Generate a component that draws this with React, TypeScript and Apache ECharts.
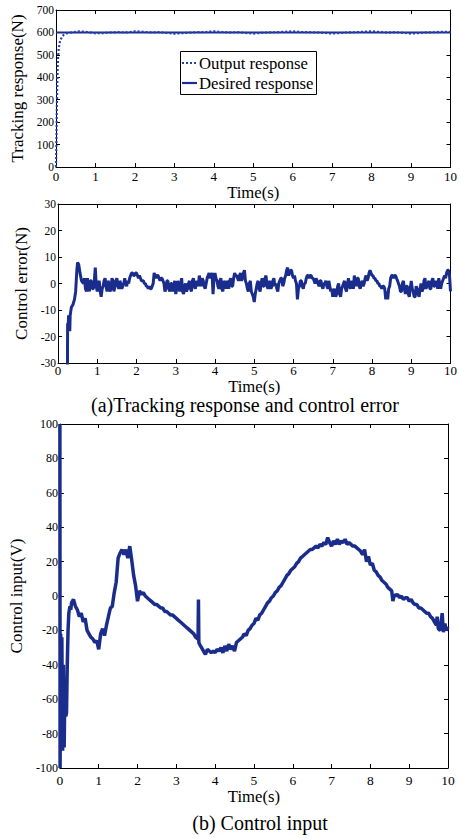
import React, { useEffect, useRef } from 'react';
import * as echarts from 'echarts';

const FONT = '"Liberation Serif", "Times New Roman", Times, serif';
const NAVY = '#1b2d8c';
const DOT_BLUE = '#2340b0';

// ---- (a) tracking response -------------------------------------------------
const desiredResponse: [number, number][] = [[0, 600], [10, 600]];

const outputResponse: [number, number][] = [
  [0, 0], [0.01, 100], [0.02, 250], [0.03, 350], [0.04, 430], [0.05, 480],
  [0.07, 530], [0.1, 560], [0.15, 580], [0.2, 590], [0.3, 597], [0.4, 600],
  [0.6, 605], [0.8, 602], [1.0, 596], [1.2, 597], [1.4, 600], [1.6, 601],
  [1.8, 600], [2.0, 605], [2.2, 603], [2.4, 600], [2.6, 601], [2.8, 598],
  [3.0, 594], [3.2, 597], [3.4, 599], [3.6, 601], [3.8, 602], [4.0, 605],
  [4.2, 602], [4.4, 600], [4.6, 601], [4.8, 598], [5.0, 595], [5.2, 598],
  [5.4, 600], [5.6, 601], [5.8, 603], [6.0, 605], [6.2, 602], [6.4, 601],
  [6.6, 600], [6.8, 598], [7.0, 595], [7.2, 597], [7.4, 600], [7.6, 601],
  [7.8, 603], [8.0, 605], [8.2, 602], [8.4, 599], [8.6, 601], [8.8, 598],
  [9.0, 595], [9.2, 597], [9.4, 600], [9.6, 601], [9.8, 603], [10.0, 602],
];

// ---- (a) control error -----------------------------------------------------
// start-up transient, (time, error) pairs
const errorOnset: [number, number][] = [
  [0.24, -35], [0.245, -15], [0.26, -16], [0.27, -12], [0.285, -13], [0.3, -18],
  [0.31, -12], [0.34, -9], [0.38, -8], [0.42, -6], [0.45, -3], [0.48, 5],
  [0.5, 8], [0.53, 7], [0.56, 4], [0.6, 1], [0.65, 0], [0.675, 2], [0.7, -2],
  [0.725, -3], [0.75, 2], [0.775, 0], [0.8, -3], [0.825, 1], [0.85, 1],
  [0.875, -2], [0.9, -2], [0.925, 1], [0.95, 6], [0.975, -1],
];
// steady state, logged every 25 ms from t = 1 s
const ERR_T0 = 1.0;
const ERR_DT = 0.025;
const errorSamples: number[] = [
  // 1 s
  -3, 0, 1, -3, -5, -2, -1, 1, 2, -1, -3, 1, 0, -3, -2, 2, 1, -3, -1, 1,
  2, -1, -2, 1, 0, -2, -1, 0, 2, 0, -1, 1, 0, 2, 3, 4, 4, 3, 3, 4,
  // 2 s
  4, 3, 2, 3, 2, 1, 1, 1, 0, 0, -1, -1, -2, -1, -2, -2, -1, 0, 4, 3,
  2, 3, 3, 2, 1, 2, 2, 1, 0, -3, -2, 1, 1, -2, -3, 0, 0, -3, -1, 1,
  // 3 s
  -4, -2, 1, -1, -3, 0, 2, -3, -4, -1, 0, -3, -2, 0, 1, -2, -3, 1, 2, -1,
  -2, 1, 0, -1, 3, 1, -1, 2, 1, -1, -2, 0, 2, 3, 4, 2, 3, 4, -4, 2,
  // 4 s
  4, 2, 1, -1, -2, 1, 2, -2, -3, 1, 0, -2, 1, 0, -2, 1, 2, -1, -1, 2,
  4, 3, 3, 2, 1, 3, 4, 1, 2, 4, 5, 1, 0, -2, -3, 0, 1, -3, -4, -5,
  // 5 s
  -7, -4, -2, 0, 1, -2, -3, 0, 2, -1, -1, 2, 3, -1, -2, 0, 1, -2, -1, 1,
  2, -1, 0, -2, -3, 0, 1, 2, 2, -1, 0, 2, 3, 5, 6, 3, 4, 5, 5, 3,
  // 6 s
  2, 3, 1, 0, -6, -2, -1, 1, 1, -1, -2, 0, 0, 2, 3, 3, 2, 3, 3, 2,
  2, 1, 0, 2, 1, 0, -1, 1, 1, -1, -2, 0, 0, 1, -1, -2, 1, -1, -3, -2,
  // 7 s
  -5, -3, -2, -5, -4, -1, 0, -4, -5, -2, -1, 0, 1, -2, -3, 0, 2, -1, -2, 1,
  0, -2, 3, 1, -1, 2, 2, -1, -2, 0, 1, -1, 0, 2, 3, 1, 2, 4, 5, 4,
  // 8 s
  3, 3, 2, 2, 1, 1, 0, 0, -1, -1, -2, -1, -1, -2, -6, -3, -6, -2, -1, 2,
  3, 3, 2, 3, 3, 2, 1, 0, -1, -3, -3, 0, 1, -2, -4, -1, -1, -4, -5, -2,
  // 9 s
  1, -2, -3, -5, -5, -1, -2, -4, -5, -2, 0, -3, -2, 1, 2, -2, -1, 0, 1, -2,
  -2, 1, 2, -1, -1, 1, 0, -2, 2, 0, -2, 0, 1, 2, 3, 2, 4, 5, 5, 3,
  // 10 s
  -3,
];

// ---- (b) control input -----------------------------------------------------
const controlInput: [number, number][] = [
  [0, 100], [0.005, -100], [0.02, -22], [0.04, -60], [0.05, -24], [0.07, -90],
  [0.09, -40], [0.11, -88], [0.13, -50], [0.15, -70], [0.17, -68], [0.19, -40],
  [0.21, -20], [0.23, -10], [0.26, -6], [0.28, -8], [0.3, -4],
  [0.35, -2], [0.4, -6], [0.45, -8], [0.5, -12], [0.55, -10], [0.6, -15],
  [0.65, -13], [0.7, -20], [0.75, -22], [0.8, -24], [0.85, -25], [0.9, -27],
  [0.95, -26], [1.0, -31], [1.05, -22], [1.1, -19], [1.15, -23], [1.2, -17],
  [1.25, -12], [1.3, -7], [1.35, -6], [1.4, 2], [1.45, 8], [1.5, 22], [1.55, 25],
  [1.6, 27], [1.65, 24], [1.7, 27], [1.75, 22], [1.8, 29], [1.85, 21], [1.9, 12],
  [1.95, 6], [2.0, -3], [2.05, 3], [2.1, 1], [2.15, 2], [2.2, 0], [2.25, -1],
  [2.3, -2], [2.35, -3], [2.4, -4], [2.45, -5], [2.5, -5], [2.55, -6], [2.6, -7],
  [2.65, -7], [2.7, -9], [2.75, -9], [2.8, -10], [2.85, -11], [2.9, -11],
  [2.95, -12], [3.0, -13], [3.05, -14], [3.1, -15], [3.15, -16], [3.2, -17],
  [3.25, -18], [3.3, -19], [3.35, -20], [3.4, -21], [3.45, -22], [3.5, -24],
  [3.55, -25], [3.56, -24], [3.57, -2], [3.58, -27], [3.62, -29], [3.65, -30],
  [3.7, -32], [3.75, -34], [3.8, -31], [3.85, -32], [3.9, -33], [3.95, -32],
  [4.0, -33], [4.05, -31], [4.1, -32], [4.15, -30], [4.2, -33], [4.25, -29],
  [4.3, -32], [4.35, -28], [4.4, -31], [4.45, -29], [4.5, -32], [4.55, -27],
  [4.6, -26], [4.65, -25], [4.7, -24], [4.75, -22], [4.8, -23], [4.85, -20],
  [4.9, -19], [4.95, -17], [5.0, -16], [5.05, -13], [5.1, -14], [5.15, -11],
  [5.2, -10], [5.25, -8], [5.3, -6], [5.35, -4], [5.4, -3], [5.45, -1], [5.5, 0],
  [5.55, 2], [5.6, 3], [5.65, 5], [5.7, 6], [5.75, 8], [5.8, 10], [5.85, 12],
  [5.9, 13], [5.95, 15], [6.0, 16], [6.05, 17], [6.1, 19], [6.15, 20], [6.2, 22],
  [6.25, 23], [6.3, 24], [6.35, 25], [6.4, 26], [6.45, 27], [6.5, 27], [6.55, 28],
  [6.6, 29], [6.65, 28], [6.7, 30], [6.75, 29], [6.8, 31], [6.85, 30], [6.9, 34],
  [6.95, 31], [7.0, 29], [7.05, 32], [7.1, 30], [7.15, 33], [7.2, 30], [7.25, 32],
  [7.3, 31], [7.35, 33], [7.4, 30], [7.45, 31], [7.5, 30], [7.55, 29], [7.6, 29],
  [7.65, 28], [7.7, 27], [7.75, 26], [7.8, 24], [7.85, 27], [7.9, 20], [7.95, 23],
  [8.0, 18], [8.05, 19], [8.1, 15], [8.15, 14], [8.2, 12], [8.25, 11], [8.3, 9],
  [8.35, 8], [8.4, 7], [8.45, 5], [8.5, 4], [8.55, 3], [8.58, -3], [8.62, 1],
  [8.65, 0], [8.7, 1], [8.75, -1], [8.8, 0], [8.85, -2], [8.9, -1], [8.95, -1],
  [9.0, -3], [9.05, -2], [9.1, -4], [9.15, -5], [9.2, -5], [9.25, -7], [9.3, -7],
  [9.35, -8], [9.4, -9], [9.45, -10], [9.5, -10], [9.55, -12], [9.6, -13],
  [9.65, -15], [9.7, -17], [9.72, -12], [9.75, -19], [9.8, -20], [9.85, -10],
  [9.88, -21], [9.92, -16], [9.95, -20], [10.0, -18],
];

const controlError: [number, number][] = [
  ...errorOnset,
  ...errorSamples.map((v, i): [number, number] => [ERR_T0 + i * ERR_DT, v]),
];

// panel boxes in px and their axis settings
const panels = [
  { left: 56, top: 10, width: 396, height: 157, yMin: 0, yMax: 700, yStep: 100, yName: 'Tracking response(N)', yGap: 25, xGap: 8, xLabelMargin: 3, xFont: 13, yFont: 11.5 },
  { left: 58, top: 204, width: 394, height: 159, yMin: -30, yMax: 30, yStep: 10, yName: 'Control error(N)', yGap: 25, xGap: 4, xLabelMargin: 1, xFont: 13, yFont: 11.5 },
  { left: 59, top: 424, width: 389, height: 344, yMin: -100, yMax: 100, yStep: 20, yName: 'Control input(V)', yGap: 31, xGap: 16, xLabelMargin: 5, xFont: 13.5, yFont: 12 },
];

const boxLine = { show: true, onZero: false, lineStyle: { color: '#000', width: 1 } };
const innerTick = { show: true, inside: true, length: 4, lineStyle: { color: '#000', width: 1 } };

// legend box of the tracking panel
const LEGEND = { x: 180, y: 51, w: 136, h: 43 };

function buildOption() {
  const grid = panels.map((p) => ({ left: p.left, top: p.top, width: p.width, height: p.height, containLabel: false }));
  const xAxis: any[] = [];
  const yAxis: any[] = [];
  panels.forEach((p, i) => {
    xAxis.push({
      type: 'value', gridIndex: i, position: 'bottom', min: 0, max: 10, interval: 1,
      axisLine: boxLine, axisTick: innerTick, splitLine: { show: false },
      axisLabel: { color: '#000', fontFamily: FONT, fontSize: p.xFont, margin: p.xLabelMargin },
      name: 'Time(s)', nameLocation: 'middle', nameGap: p.xGap,
      nameTextStyle: { color: '#000', fontFamily: FONT, fontSize: 16.7 },
    });
    xAxis.push({
      type: 'value', gridIndex: i, position: 'top', min: 0, max: 10, interval: 1,
      axisLine: boxLine, axisTick: innerTick, splitLine: { show: false }, axisLabel: { show: false },
    });
    yAxis.push({
      type: 'value', gridIndex: i, position: 'left', min: p.yMin, max: p.yMax, interval: p.yStep,
      axisLine: boxLine, axisTick: innerTick, splitLine: { show: false },
      axisLabel: { color: '#000', fontFamily: FONT, fontSize: p.yFont, margin: 2 },
      name: p.yName, nameLocation: 'middle', nameGap: p.yGap,
      nameTextStyle: { color: '#000', fontFamily: FONT, fontSize: 17 },
    });
    yAxis.push({
      type: 'value', gridIndex: i, position: 'right', min: p.yMin, max: p.yMax, interval: p.yStep,
      axisLine: boxLine, axisTick: innerTick, splitLine: { show: false }, axisLabel: { show: false },
    });
  });

  const rowA = LEGEND.y + 12;
  const rowB = LEGEND.y + 32;
  const legendText = { fontFamily: FONT, fontSize: 16.7, fill: '#000', verticalAlign: 'middle', align: 'left' };

  return {
    animation: false,
    backgroundColor: '#fff',
    textStyle: { fontFamily: FONT },
    grid,
    xAxis,
    yAxis,
    graphic: [
      {
        type: 'group', z: 100,
        children: [
          { type: 'rect', shape: { x: LEGEND.x + 0.5, y: LEGEND.y + 0.5, width: LEGEND.w, height: LEGEND.h }, style: { fill: '#fff', stroke: '#000', lineWidth: 1 } },
          { type: 'line', shape: { x1: LEGEND.x + 2, y1: rowA, x2: LEGEND.x + 17, y2: rowA }, style: { stroke: DOT_BLUE, lineWidth: 2.2, lineDash: [2, 2] } },
          { type: 'text', x: LEGEND.x + 19, y: rowA, style: { ...legendText, text: 'Output response' } },
          { type: 'line', shape: { x1: LEGEND.x + 2, y1: rowB, x2: LEGEND.x + 17, y2: rowB }, style: { stroke: NAVY, lineWidth: 2.2 } },
          { type: 'text', x: LEGEND.x + 19, y: rowB, style: { ...legendText, text: 'Desired response' } },
        ],
      },
      { type: 'text', x: 245, y: 405, style: { text: '(a)Tracking response and control error', fontFamily: FONT, fontSize: 20, fill: '#000', align: 'center', verticalAlign: 'middle' } },
      { type: 'text', x: 260, y: 823, style: { text: '(b) Control input', fontFamily: FONT, fontSize: 20, fill: '#000', align: 'center', verticalAlign: 'middle' } },
    ],
    series: [
      {
        name: 'Desired response', type: 'line', xAxisIndex: 0, yAxisIndex: 0,
        data: desiredResponse, symbol: 'none', z: 2,
        lineStyle: { color: NAVY, width: 2, type: 'solid' },
      },
      {
        name: 'Output response', type: 'line', xAxisIndex: 0, yAxisIndex: 0,
        data: outputResponse, symbol: 'none', z: 3,
        lineStyle: { color: DOT_BLUE, width: 2.2, type: [2, 2] },
      },
      {
        name: 'Control error', type: 'line', xAxisIndex: 2, yAxisIndex: 2,
        data: controlError, symbol: 'none', clip: true,
        lineStyle: { color: NAVY, width: 3 },
      },
      {
        name: 'Control input', type: 'line', xAxisIndex: 4, yAxisIndex: 4,
        data: controlInput, symbol: 'none', clip: true,
        lineStyle: { color: NAVY, width: 3.5 },
      },
    ],
  };
}

export default function App() {
  const ref = useRef<HTMLDivElement>(null);
  useEffect(() => {
    if (!ref.current) return;
    const chart = echarts.init(ref.current, undefined, { renderer: 'svg' });
    chart.setOption(buildOption() as any);
    return () => chart.dispose();
  }, []);
  return (
    <div
      ref={ref}
      style={{ position: 'absolute', left: 0, top: 0, width: 460, height: 838, background: '#fff' }}
    />
  );
}
